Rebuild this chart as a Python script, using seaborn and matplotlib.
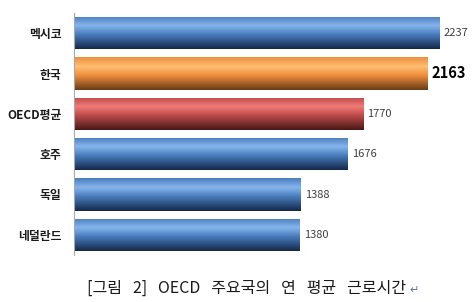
import numpy as np
import pandas as pd
import matplotlib
matplotlib.use("Agg")
import matplotlib.pyplot as plt
import seaborn as sns
from matplotlib.colors import LinearSegmentedColormap

categories = ["멕시코", "한국", "OECD평균", "호주", "독일", "네덜란드"]
hours = [2237, 2163, 1770, 1676, 1388, 1380]
caption = "[그림   2]   OECD   주요국의   연   평균   근로시간"

# colour scheme per bar: (top, light, dark)
blue = ("#4a7ebf", "#86b5ec", "#13294a")
orange = ("#ef8e3e", "#ffbf73", "#6a3d16")
red = ("#be4c4a", "#f27b79", "#4a1818")
bar_styles = [blue, orange, red, blue, blue, blue]

sns.set_theme(style="white")
plt.rcParams["font.family"] = ["Noto Sans CJK KR", "DejaVu Sans"]

W, H = 475, 302
fig = plt.figure(figsize=(W / 100, H / 100), dpi=100)
ax = fig.add_axes([74 / W, 1 - 255 / H, (470 - 74) / W, (255 - 13) / H])

df = pd.DataFrame({"country": categories, "hours": hours})
sns.barplot(data=df, x="hours", y="country", hue="country",
            palette=[s[0] for s in bar_styles], width=0.8, legend=False,
            ax=ax, saturation=1)

ax.set_xlim(0, (470 - 74) / 0.1634)
xlim, ylim = ax.get_xlim(), ax.get_ylim()

patches = [p for c in ax.containers for p in c]
for p, st in zip(patches, bar_styles):
    x0, y0 = p.get_x(), p.get_y()
    w, h = p.get_width(), p.get_height()
    cmap = LinearSegmentedColormap.from_list(
        "g", [(0, st[0]), (0.28, st[1]), (0.55, st[0]), (1.0, st[2])])
    grad = np.linspace(0, 1, 64).reshape(-1, 1)
    im = ax.imshow(grad, cmap=cmap, aspect="auto", origin="upper",
                   extent=(x0, x0 + w, y0 + h, y0), zorder=p.get_zorder() + 0.1,
                   interpolation="bilinear")
    im.set_clip_path(p)
    p.set_edgecolor("none")

ax.set_xlim(xlim)
ax.set_ylim(ylim)

# value labels
for c in ax.containers:
    for p in c:
        idx = int(round(p.get_y() + p.get_height() / 2))
        val = hours[idx]
        if idx == 1:
            ax.annotate(f"{val}", (p.get_x() + p.get_width(), p.get_y() + p.get_height() / 2),
                        xytext=(3, 0), textcoords="offset points", va="center", ha="left",
                        fontsize=10.5, fontweight="bold", color="#000000")
        else:
            ax.annotate(f"{val}", (p.get_x() + p.get_width(), p.get_y() + p.get_height() / 2),
                        xytext=(3, 0), textcoords="offset points", va="center", ha="left",
                        fontsize=8, color="#404040")

ax.set_xlabel("")
ax.set_ylabel("")
ax.set_xticks([])
ax.tick_params(axis="y", length=0, pad=9)
for lab in ax.get_yticklabels():
    lab.set_fontweight("bold")
    lab.set_fontsize(8.5)
    lab.set_color("#1a1a1a")
for s in ["top", "right", "bottom"]:
    ax.spines[s].set_visible(False)
ax.spines["left"].set_color("#a8a8a8")
ax.spines["left"].set_linewidth(0.8)

cap = fig.text(87 / W, 1 - 288 / H, caption, ha="left", va="center",
               fontsize=11.5, color="#1a1a1a")
fig.canvas.draw()
bb = cap.get_window_extent()
fig.text((bb.x1 + 3) / W, 1 - 290 / H, "↵", ha="left", va="center",
         fontsize=8, color="#5a74a8", family=["DejaVu Sans"])

fig.savefig("out.png", dpi=100)
